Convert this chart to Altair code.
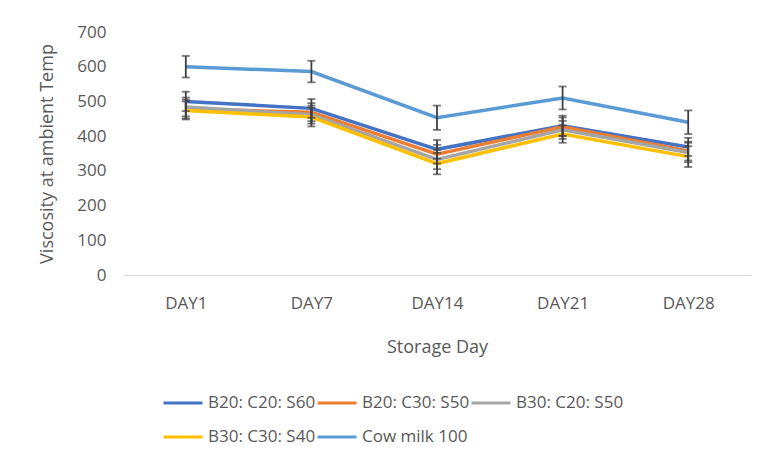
import altair as alt
import pandas as pd

days = ["DAY1", "DAY7", "DAY14", "DAY21", "DAY28"]
series = ["B20: C20: S60", "B20: C30: S50", "B30: C20: S50", "B30: C30: S40", "Cow milk 100"]
colors = ["#4472C4", "#ED7D31", "#A5A5A5", "#FFC000", "#5B9BD5"]
y_ticks = [0, 100, 200, 300, 400, 500, 600, 700]

b20c20s60 = [500, 480, 362, 430, 369]
b20c30s50 = [478, 469, 348, 427, 357]
b30c20s50 = [484, 462, 333, 418, 353]
b30c30s40 = [474, 455, 321, 406, 341]
cowmilk = [600, 586, 453, 510, 440]

err_b20c20s60 = [28, 27, 27, 29, 26]
err_b20c30s50 = [27, 26, 27, 27, 27]
err_b30c20s50 = [27, 26, 28, 26, 28]
err_b30c30s40 = [26, 27, 31, 25, 30]
err_cowmilk = [31, 31, 35, 33, 34]

values = [b20c20s60, b20c30s50, b30c20s50, b30c30s40, cowmilk]
errors = [err_b20c20s60, err_b20c30s50, err_b30c20s50, err_b30c30s40, err_cowmilk]

rows = []
for s, vals, errs in zip(series, values, errors):
    for d, v, e in zip(days, vals, errs):
        rows.append({"Day": d, "Series": s, "Value": v, "Low": v - e, "High": v + e})
df = pd.DataFrame(rows)

FONT = "Open Sans"
GREY = "#595959"

x_axis = alt.Axis(title="Storage Day", labelAngle=0, ticks=False,
                  domainColor="#D9D9D9", domainWidth=1.2,
                  labelPadding=20, titlePadding=27,
                  labelFontSize=17, titleFontSize=18,
                  labelColor=GREY, titleColor=GREY, titleFontWeight="normal",
                  labelFont=FONT, titleFont=FONT)
x_scale = alt.Scale(type="point", padding=0.5)

y_axis = alt.Axis(title="Viscosity at ambient Temp", values=y_ticks,
                  labelOverlap=False,
                  grid=False, domain=False, ticks=False, labelPadding=17,
                  titlePadding=20, labelFontSize=17, titleFontSize=18,
                  labelColor=GREY, titleColor=GREY, titleFontWeight="normal",
                  labelFont=FONT, titleFont=FONT)
y_scale = alt.Scale(domain=[0, 700], nice=False)

color = alt.Color("Series:N", sort=series,
                  scale=alt.Scale(domain=series, range=colors),
                  legend=alt.Legend(title=None, orient="none", legendX=39, legendY=350,
                                    direction="horizontal",
                                    columns=3, symbolType="stroke", symbolSize=1521,
                                    symbolStrokeWidth=3, labelFontSize=17, labelFont=FONT,
                                    labelColor=GREY, columnPadding=-26, rowPadding=5,
                                    labelOffset=4, labelLimit=220))

base = alt.Chart(df)

lines = base.mark_line(strokeWidth=3.5).encode(
    x=alt.X("Day:N", sort=days, scale=x_scale, axis=x_axis),
    y=alt.Y("Value:Q", scale=y_scale, axis=y_axis),
    color=color,
)

rules = base.mark_rule(color="#404040", strokeWidth=1.8).encode(
    x=alt.X("Day:N", sort=days, scale=x_scale, axis=x_axis),
    y=alt.Y("Low:Q", scale=y_scale, axis=y_axis),
    y2="High:Q",
)
ticks_low = base.mark_tick(color="#404040", thickness=1.8, size=8, orient="horizontal").encode(
    x=alt.X("Day:N", sort=days, scale=x_scale, axis=x_axis),
    y=alt.Y("Low:Q", scale=y_scale, axis=y_axis))
ticks_high = base.mark_tick(color="#404040", thickness=1.8, size=8, orient="horizontal").encode(
    x=alt.X("Day:N", sort=days, scale=x_scale, axis=x_axis),
    y=alt.Y("High:Q", scale=y_scale, axis=y_axis))

chart = alt.layer(lines, rules, ticks_low, ticks_high).properties(
    width=628, height=243,
    padding={"left": 30, "top": 15, "right": 2, "bottom": 5},
).configure_view(stroke=None)

chart.save("out.html", embed_options={"renderer": "svg", "actions": False})
